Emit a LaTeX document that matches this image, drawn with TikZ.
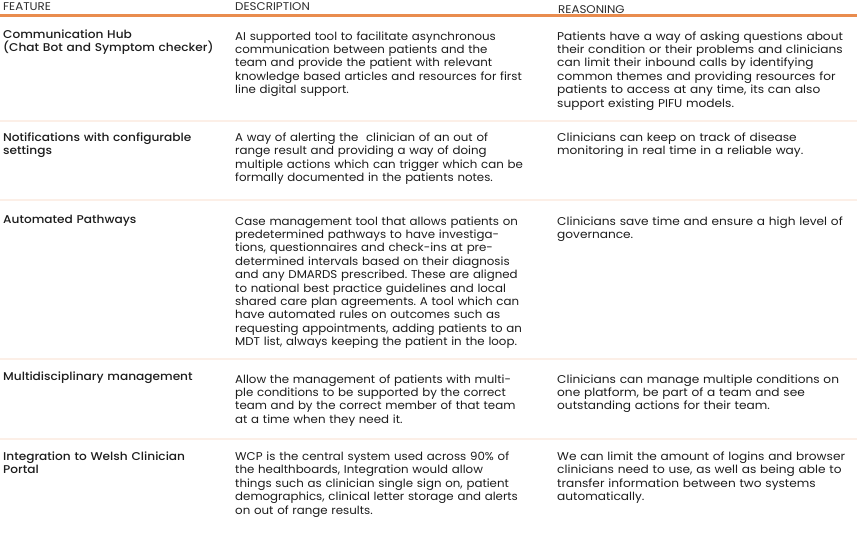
\documentclass[tikz,border=0pt]{standalone}
\usepackage{fontspec}
\setmainfont{Poppins}[FakeStretch=1.075]
\newfontfamily\medfont{Poppins Medium}[FakeStretch=1.075]
\newfontfamily\descfont{Poppins}[FakeStretch=1.045]
\newfontfamily\headfont{Poppins}[FakeStretch=1.06]
\definecolor{orangeline}{HTML}{E98C4E}
\definecolor{sepline}{HTML}{FCEFE7}
\definecolor{txt}{HTML}{1C1C1C}
\definecolor{headtxt}{HTML}{2E2E2E}
\frenchspacing
\begin{document}
\begin{tikzpicture}[x=1pt,y=-1pt,
  cell/.style={anchor=base west, inner sep=0pt, text width=330pt, align=left,
    font=\fontsize{11.3}{13.4}\selectfont, text=txt},
  desccell/.style={cell, font=\descfont\fontsize{11.3}{13.4}\selectfont},
  feat/.style={cell, font=\medfont\fontsize{11.3}{13.6}\selectfont},
  head/.style={anchor=base west, inner sep=0pt, font=\headfont\fontsize{11.2}{13}\selectfont, text=headtxt},
  rule/.style={draw=sepline, line width=2pt},
  toprule/.style={draw=orangeline, line width=2.4pt}]
\useasboundingbox (0,0) rectangle (857,541);
% header
\node[head] (hf) at (3,10) {FEATURE};
\node[head] (hd) at (235,10) {DESCRIPTION};
\node[head] (hr) at (558,13.5) {REASONING};
\coordinate (t0) at (0,15.5); \coordinate (t1) at (857,15.5);
\draw[toprule] (t0) -- (t1);
% separators
\coordinate (s1a) at (0,120.5); \coordinate (s1b) at (857,120.5);
\coordinate (s2a) at (0,200);   \coordinate (s2b) at (857,200);
\coordinate (s3a) at (0,359);   \coordinate (s3b) at (857,359);
\coordinate (s4a) at (0,439);   \coordinate (s4b) at (857,439);
\draw[rule] (s1a) -- (s1b);
\draw[rule] (s2a) -- (s2b);
\draw[rule] (s3a) -- (s3b);
\draw[rule] (s4a) -- (s4b);
% row 1
\node[feat] (f1) at (3,38) {Communication Hub\\(Chat Bot and Symptom checker)};
\node[desccell] (d1) at (235,40) {AI supported tool to facilitate asynchronous\\communication between patients and the\\team and provide the patient with relevant\\knowledge based articles and resources for first\\line digital support.};
\node[cell] (r1) at (557,40) {Patients have a way of asking questions about\\their condition or their problems and clinicians\\can limit their inbound calls by identifying\\common themes and providing resources for\\patients to access at any time, its can also\\support existing PIFU models.};
% row 2
\node[feat] (f2) at (3,141) {Notifications with configurable\\settings};
\node[desccell] (d2) at (235,141.5) {A way of alerting the\ \ clinician of an out of\\range result and providing a way of doing\\multiple actions which can trigger which can be\\formally documented in the patients notes.};
\node[cell] (r2) at (557,141.5) {Clinicians can keep on track of disease\\monitoring in real time in a reliable way.};
% row 3
\node[feat] (f3) at (3,223) {Automated Pathways};
\node[desccell] (d3) at (235,225) {Case management tool that allows patients on\\predetermined pathways to have investiga-\\tions, questionnaires and check-ins at pre-\\determined intervals based on their diagnosis\\and any DMARDS prescribed. These are aligned\\to national best practice guidelines and local\\shared care plan agreements. A tool which can\\have automated rules on outcomes such as\\requesting appointments, adding patients to an\\MDT list, always keeping the patient in the loop.};
\node[cell] (r3) at (557,225) {Clinicians save time and ensure a high level of\\governance.};
% row 4
\node[feat] (f4) at (3,380.5) {Multidisciplinary management};
\node[desccell] (d4) at (235,383) {Allow the management of patients with multi-\\ple conditions to be supported by the correct\\team and by the correct member of that team\\at a time when they need it.};
\node[cell] (r4) at (557,383) {Clinicians can manage multiple conditions on\\one platform, be part of a team and see\\outstanding actions for their team.};
% row 5
\node[feat] (f5) at (3,460) {Integration to Welsh Clinician\\Portal};
\node[desccell] (d5) at (235,460.5) {WCP is the central system used across 90\% of\\the healthboards, Integration would allow\\things such as clinician single sign on, patient\\demographics, clinical letter storage and alerts\\on out of range results.};
\node[cell] (r5) at (557,460.5) {We can limit the amount of logins and browser\\clinicians need to use, as well as being able to\\transfer information between two systems\\automatically.};
\end{tikzpicture}
\end{document}
